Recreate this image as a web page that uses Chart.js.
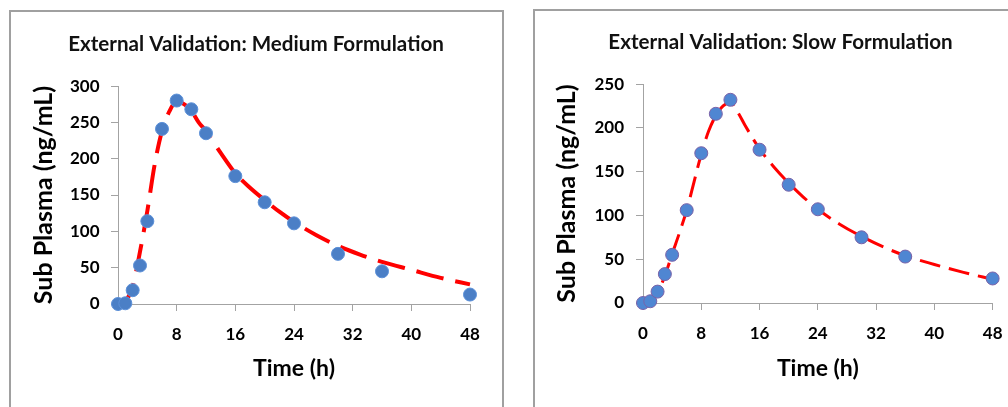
<!DOCTYPE html>
<html>
<head>
<meta charset="utf-8">
<title>External Validation</title>
<script src="https://cdn.jsdelivr.net/npm/chart.js@4.4.1/dist/chart.umd.min.js"></script>
<style>
  html, body { margin: 0; padding: 0; background: #fff; overflow: hidden; }
  #wrap { position: relative; width: 1008px; height: 407px; overflow: hidden; background: #fff; }
  .panel { position: absolute; box-sizing: border-box; border: 2px solid #a0a0a0; border-bottom: none; background: #fff; }
  #panel1 { left: 9px; top: 10px; width: 495px; height: 397px; }
  #panel2 { left: 533px; top: 9px; width: 475px; height: 398px; border-right: none; }
  canvas { position: absolute; }
  #medChart { left: 12px; top: 12px; }
  #slowChart { left: 536px; top: 11px; }
</style>
</head>
<body>
<div id="wrap">
  <div class="panel" id="panel1"></div>
  <div class="panel" id="panel2"></div>
  <canvas id="medChart" width="488" height="370"></canvas>
  <canvas id="slowChart" width="480" height="371"></canvas>
</div>
<script>
// x ticks (hours) shared by both plots
var timeTicks = [0, 8, 16, 24, 32, 40, 48];

// medium formulation: observed points and model curve
var medTime = [0, 1, 2, 3, 4, 6, 8, 10, 12, 16, 20, 24, 30, 36, 48];
var medObs = [0, 1, 19, 53, 114, 241, 280, 268, 235, 176, 140, 111, 69, 45, 13];
var medFitTime = [0, 1, 2, 3, 4, 5, 6, 7, 8, 9, 10, 11, 12, 14, 16, 18, 20, 22, 24, 27, 30, 33, 36, 40, 44, 48];
var medFit = [0, 4, 24, 72, 128, 192, 238, 265, 279, 275, 266, 250, 238, 208, 180, 160, 143, 127, 113, 95, 80, 68, 58, 47, 36, 27];
var medTicks = [0, 50, 100, 150, 200, 250, 300];

// slow formulation
var slowTime = [0, 1, 2, 3, 4, 6, 8, 10, 12, 16, 20, 24, 30, 36, 48];
var slowObs = [0, 2, 13, 33, 55, 106, 171, 216, 232, 175, 135, 107, 75, 53, 28];
var slowFitTime = [0, 1, 2, 3, 4, 5, 6, 7, 8, 9, 10, 11, 12, 13, 14, 16, 18, 20, 22, 24, 27, 30, 33, 36, 40, 44, 48];
var slowFit = [0, 2, 12, 31, 56, 80, 106, 138, 170, 196, 214, 225, 229, 218, 203, 176, 155, 137, 121, 107, 90, 76, 64, 54, 44, 35, 27];
var slowTicks = [0, 50, 100, 150, 200, 250];

Chart.defaults.font.family = 'Lato, "Open Sans", sans-serif';
Chart.defaults.color = '#000';

var axisColor = '#a3a3a3';

function toPoints(xs, ys) {
  return xs.map(function (x, i) { return { x: x, y: ys[i] }; });
}

function drawPK(id, s) {
  return new Chart(document.getElementById(id), {
    type: 'scatter',
    data: {
      datasets: [
        {
          // measured
          data: toPoints(s.time, s.obs),
          showLine: false,
          clip: false,
          pointRadius: s.dotR,
          pointBackgroundColor: s.dotFill,
          pointBorderColor: s.dotEdge,
          pointBorderWidth: 1
        },
        {
          // predicted
          data: toPoints(s.fitTime, s.fit),
          showLine: true,
          clip: false,
          pointRadius: 0,
          borderColor: '#ff0000',
          borderWidth: s.lineW,
          borderDash: s.dash,
          borderCapStyle: 'butt',
          cubicInterpolationMode: 'monotone'
        }
      ]
    },
    options: {
      responsive: false,
      animation: false,
      devicePixelRatio: 1,
      layout: { padding: { left: s.padL, top: 0, right: s.padR, bottom: 0 } },
      plugins: {
        legend: { display: false },
        tooltip: { enabled: false },
        title: {
          display: true,
          text: s.title,
          color: '#111',
          font: { size: 20.6, weight: 'bold' },
          padding: { top: s.titleTop, bottom: s.titleBottom }
        }
      },
      scales: {
        x: {
          type: 'linear',
          min: 0,
          max: 48,
          afterBuildTicks: function (sc) { sc.ticks = timeTicks.map(function (v) { return { value: v }; }); },
          afterFit: function (sc) { sc.height = s.xAxisH; },
          grid: { drawOnChartArea: false, drawTicks: true, tickLength: 7, color: axisColor },
          border: { color: axisColor },
          ticks: { padding: 13.5, maxRotation: 0, font: { size: 17, weight: 'bold' } },
          title: {
            display: true,
            text: 'Time (h)',
            font: { size: 23, weight: 'bold' },
            padding: 0
          }
        },
        y: {
          type: 'linear',
          min: 0,
          max: s.yTicks[s.yTicks.length - 1],
          afterBuildTicks: function (sc) { sc.ticks = s.yTicks.map(function (v) { return { value: v }; }); },
          afterFit: function (sc) { sc.width = s.yAxisW; },
          grid: { drawOnChartArea: false, drawTicks: true, tickLength: 7, color: axisColor },
          border: { color: axisColor },
          ticks: { padding: s.yTickPad, font: { size: 17, weight: 'bold' } },
          title: {
            display: true,
            text: 'Sub Plasma (ng/mL)',
            font: { size: 25, weight: 'bold' },
            padding: { top: s.yTitlePad, bottom: 0 }
          }
        }
      }
    }
  });
}

drawPK('medChart', {
  title: 'External Validation: Medium Formulation',
  time: medTime, obs: medObs, fitTime: medFitTime, fit: medFit, yTicks: medTicks,
  dotR: 6.5, dotFill: '#4b7fc6', dotEdge: '#5c90d8', lineW: 4, dash: [28, 12],
  padL: 30, padR: 30, yAxisW: 76, xAxisH: 78,
  titleTop: 19.6, titleBottom: 29.7, yTitlePad: -13, yTickPad: 11.5
});

drawPK('slowChart', {
  title: 'External Validation: Slow Formulation',
  time: slowTime, obs: slowObs, fitTime: slowFitTime, fit: slowFit, yTicks: slowTicks,
  dotR: 6.5, dotFill: '#4f86d2', dotEdge: '#7a62a8', lineW: 3, dash: [21, 9],
  padL: 30, padR: 21, yAxisW: 77, xAxisH: 79,
  titleTop: 18.6, titleBottom: 29.7, yTitlePad: -13.7, yTickPad: 12
});
</script>
</body>
</html>
